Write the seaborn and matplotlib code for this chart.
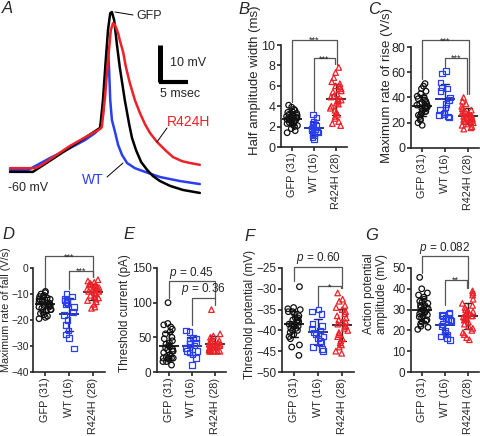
import numpy as np
import pandas as pd
import matplotlib
matplotlib.use('Agg')
import matplotlib.pyplot as plt
import seaborn as sns

np.random.seed(7)
sns.set_style('ticks')
plt.rcParams['font.family'] = ['Liberation Sans', 'DejaVu Sans']
plt.rcParams['mathtext.fontset'] = 'custom'
plt.rcParams['mathtext.rm'] = 'Liberation Sans'
plt.rcParams['mathtext.it'] = 'Liberation Sans:italic'

# ---------------- data ----------------
groups = ['GFP (31)', 'WT (16)', 'R424H (28)']
colors = ['#111111', '#2a3ff0', '#ee2028']
mean_colors = ['#111111', '#1a2590', '#3a2020']
markers = ['o', 's', '^']

# Panel A traces (ms, mV)
gfp_t = [0, 4.1, 16.1, 16.6, 17.1, 17.5, 17.9, 18.2, 18.6, 19.1, 19.6, 20.5, 21.3, 21.8, 22.5, 23.4, 24.5, 25.5, 26.8, 28.6, 30.9, 33.9]
gfp_v = [-60.5, -60.5, -48.6, -41.1, -30.3, -22.2, -17.6, -17.3, -19.5, -26.2, -32.2, -41.1, -47.8, -51.4, -54.6, -57.8, -60.0, -61.6, -63.0, -64.3, -65.4, -66.2]
wt_t = [0, 3.2, 7.1, 10.7, 13.4, 15.2, 16.1, 16.6, 17.0, 17.3, 17.5, 17.7, 17.9, 18.2, 18.8, 19.3, 20.0, 20.9, 22.3, 24.1, 26.8, 30.4, 33.9]
wt_v = [-60.0, -60.0, -56.8, -54.1, -51.9, -50.0, -48.6, -45.1, -35.7, -27.6, -27.0, -33.0, -41.1, -46.5, -50.0, -53.2, -55.9, -58.1, -59.5, -60.5, -61.9, -63.0, -63.8]
mut_t = [0, 4.5, 5.4, 10.7, 16.1, 16.4, 17.0, 17.5, 18.0, 18.4, 18.75, 19.3, 19.6, 20.2, 20.7, 21.4, 22.3, 23.2, 24.1, 25.0, 26.25, 27.7, 29.1, 30.7, 32.1, 33.9]
mut_v = [-59.5, -59.5, -58.9, -53.5, -48.9, -48.4, -39.7, -30.3, -22.2, -20.3, -20.8, -23.0, -24.9, -28.1, -32.2, -36.5, -41.1, -44.6, -47.6, -50.0, -52.4, -54.6, -56.5, -57.6, -58.1, -58.6]

# B: half amplitude width (ms)
hw_gfp = [1.4, 1.6, 1.8, 2.0, 2.1, 2.2, 2.3, 2.3, 2.4, 2.5, 2.5, 2.6, 2.6, 2.7, 2.7, 2.8, 2.8, 2.9, 2.9, 3.0, 3.0, 3.1, 3.2, 3.2, 3.3, 3.4, 3.5, 3.6, 3.7, 3.9, 4.1]
hw_wt = [0.8, 1.0, 1.2, 1.3, 1.4, 1.5, 1.6, 1.7, 1.8, 1.9, 2.0, 2.1, 2.3, 2.5, 2.9, 3.2]
hw_mut = [2.1, 2.3, 2.5, 2.8, 3.0, 3.2, 3.4, 3.6, 3.8, 4.0, 4.2, 4.3, 4.5, 4.6, 4.7, 4.9, 5.0, 5.2, 5.4, 5.5, 5.7, 5.9, 6.0, 6.2, 6.4, 6.8, 7.3, 7.8]
# C: maximum rate of rise (V/s)
rise_gfp = [18, 20, 22, 23, 25, 26, 27, 28, 29, 29, 30, 31, 31, 32, 32, 33, 33, 34, 35, 35, 36, 37, 38, 39, 40, 41, 43, 45, 47, 49, 51]
rise_wt = [24, 25, 26, 27, 28, 30, 32, 35, 38, 40, 45, 48, 47, 52, 59, 61]
rise_mut = [15, 16, 17, 18, 19, 20, 20, 21, 22, 22, 23, 23, 24, 24, 25, 25, 26, 26, 27, 28, 28, 29, 30, 31, 33, 35, 37, 40]
# D: maximum rate of fall (V/s)
fall_gfp = [-19.5, -19, -18.5, -18, -17.5, -17, -16.5, -16, -16, -15.5, -15, -15, -14.5, -14.5, -14, -14, -13.5, -13.5, -13, -13, -12.5, -12.5, -12, -12, -11.5, -11, -11, -10.5, -10, -9.5, -9]
fall_wt = [-10, -11, -12, -12.5, -13, -13.5, -14, -15, -17, -18, -20, -22, -24, -25.5, -27, -31]
fall_mut = [-15.5, -15, -14, -13, -12.5, -12, -11.5, -11, -10.5, -10, -10, -9.5, -9, -9, -8.5, -8.5, -8, -8, -7.5, -7.5, -7, -7, -6.5, -6, -6, -5.5, -5, -4.5]
# E: threshold current (pA)
cur_gfp = [100, 70, 68, 65, 62, 58, 55, 50, 48, 45, 42, 40, 38, 36, 35, 33, 32, 30, 30, 28, 25, 22, 20, 20, 20, 20, 20, 18, 15, 15, 10]
cur_wt = [10, 20, 25, 28, 30, 30, 35, 38, 40, 40, 42, 45, 48, 50, 58, 60]
cur_mut = [90, 55, 52, 50, 48, 45, 45, 42, 40, 40, 40, 40, 38, 38, 38, 35, 35, 35, 35, 33, 33, 32, 30, 30, 30, 30, 30, 30]
# F: threshold potential (mV)
thr_gfp = [-29.5, -34.5, -34.8, -35, -35.5, -35.5, -36, -36.5, -37, -37, -37.5, -37.5, -38, -38, -38, -38.5, -38.5, -39, -39, -39, -39.5, -39.5, -40, -40, -40.5, -41, -41.5, -42, -43.5, -44, -46]
thr_wt = [-35, -35.5, -36, -38.5, -39, -39.5, -40, -40.5, -41, -41.5, -42, -42.5, -43, -44, -44.5, -45]
thr_mut = [-31, -32.5, -33, -34, -34.5, -35, -35.5, -36, -36.5, -37, -37.5, -38, -38, -38.5, -39, -39, -39.5, -40, -40.5, -41, -41.5, -42, -42.5, -43, -43.5, -44, -45, -45.5]
# G: action potential amplitude (mV)
amp_gfp = [45.5, 40, 38, 37, 36, 35, 34, 33.5, 33, 32, 32, 31, 31, 30.5, 30, 30, 29, 29, 28.5, 28, 27.5, 27, 26.5, 26, 25, 24.5, 24, 23, 22, 21.5, 20.5]
amp_wt = [28.5, 28, 27.5, 27, 26, 25.5, 25, 24.5, 23, 22, 20, 19, 18, 17, 16, 15.5]
amp_mut = [39, 38, 37, 35, 33, 32, 31, 30, 29.5, 29, 28.5, 28, 27.5, 27, 27, 26.5, 26, 25.5, 25, 24, 23, 22, 21, 20, 19, 18, 16.5, 15.5]

W, H = 480, 436
fig = plt.figure(figsize=(W / 100, H / 100), dpi=100)

def axes_px(x0, y0, x1, y1):
    return fig.add_axes([x0 / W, (H - y1) / H, (x1 - x0) / W, (y1 - y0) / H])

def letter(x, y, s):
    fig.text(x / W, 1 - y / H, s, fontsize=12, style='italic', va='top', ha='left')

# ---------------- Panel A ----------------
axA = axes_px(8, 5, 205, 200)
tr = pd.DataFrame({
    'trace': ['WT'] * len(wt_t) + ['GFP'] * len(gfp_t) + ['R424H'] * len(mut_t),
    't': wt_t + gfp_t + mut_t,
    'v': wt_v + gfp_v + mut_v,
})
sns.lineplot(data=tr, x='t', y='v', hue='trace', hue_order=['WT', 'GFP', 'R424H'],
             palette=['#2a3ff0', '#000000', '#ee2028'], sort=False, estimator=None,
             linewidth=1.8, legend=False, ax=axA)
for ln in axA.lines:
    ln.set_solid_joinstyle('round')
axA.set_xlim((8 - 10) / 5.6, (205 - 10) / 5.6)
axA.set_ylim(-60 + (170 - 200) / 3.7, -60 + (170 - 5) / 3.7)
axA.axis('off')

def pd_(x, y):
    return ((x - 10) / 5.6, -60 + (170 - y) / 3.7)

# scale bars
sx, sy = pd_(160, 82)
axA.plot([sx, sx], [sy, sy + 10], color='black', lw=3.6, solid_capstyle='butt', clip_on=False)
axA.plot([sx - 0.25, sx + 5], [sy, sy], color='black', lw=3.0, solid_capstyle='butt', clip_on=False)
axA.text(*pd_(170, 63), '10 mV', fontsize=9, va='center', ha='left')
axA.text(*pd_(160, 94), '5 msec', fontsize=9, va='center', ha='left')
# labels
axA.plot(*zip(pd_(115, 12), pd_(133, 15)), color='black', lw=0.7, clip_on=False)
axA.text(*pd_(136, 16), 'GFP', fontsize=9, va='center', ha='left')
axA.plot(*zip(pd_(157, 142), pd_(167, 128)), color='black', lw=0.7, clip_on=False)
axA.text(*pd_(167, 122), 'R424H', fontsize=10, va='center', ha='left', color='#ee2028', clip_on=False)
axA.plot(*zip(pd_(107, 177), pd_(123, 163)), color='black', lw=0.7, clip_on=False)
axA.text(*pd_(82, 180), 'WT', fontsize=10, va='center', ha='left', color='#2a3ff0')
axA.text(*pd_(8, 188), '-60 mV', fontsize=9, va='center', ha='left')

# ---------------- scatter panels ----------------
def scatter_panel(ax, vals, ylim, yticks, ylabel, lab_xy, fs_lab, fs_tick):
    df = pd.DataFrame({'group': np.repeat(groups, [len(v) for v in vals]),
                       'value': np.concatenate(vals)})
    for g, c, m in zip(groups, colors, markers):
        n0 = len(ax.collections)
        sns.stripplot(data=df[df.group == g], x='group', y='value', order=groups,
                      color=c, marker=m, size=4.0, jitter=0.26, linewidth=0.9, ax=ax)
        for coll in ax.collections[n0:]:
            coll.set_facecolor('none')
            coll.set_edgecolor(c)
    sns.pointplot(data=df, x='group', y='value', order=groups, hue='group', hue_order=groups,
                  palette=mean_colors, errorbar='sd', capsize=0.35, linestyle='none',
                  marker='_', markersize=14, markeredgewidth=1.3,
                  err_kws={'linewidth': 1.0}, legend=False, ax=ax)
    ax.set_xlim(-0.5, 2.5)
    ax.set_ylim(*ylim)
    ax.set_yticks(yticks)
    ax.set_xlabel('')
    ax.set_ylabel(ylabel, fontsize=fs_lab, linespacing=1.1)
    ax.yaxis.set_label_coords(*lab_xy)
    ax.yaxis.label.set_verticalalignment('center')
    ax.tick_params(axis='both', width=1.2, length=3, pad=1)
    ax.tick_params(axis='y', labelsize=fs_tick)
    ax.tick_params(axis='x', labelsize=7.8, rotation=90)
    for s in ['left', 'bottom']:
        ax.spines[s].set_linewidth(1.2)
    sns.despine(ax=ax)

def bracket(ax, x1, x2, y, y1, y2, label, kind='star'):
    ax.plot([x1, x1, x2, x2], [y1, y, y, y2], color='#555555', lw=0.9, clip_on=False)
    if kind == 'star':
        ax.annotate(label, xy=((x1 + x2) / 2, y), xytext=(0, -2.2), textcoords='offset points',
                    ha='center', va='baseline', fontsize=6.5, annotation_clip=False)
    else:
        ax.annotate(label, xy=((x1 + x2) / 2, y), xytext=(0, 0.6), textcoords='offset points',
                    ha='center', va='bottom', fontsize=8.5, annotation_clip=False)

axB = axes_px(281, 45, 347, 147)
scatter_panel(axB, [hw_gfp, hw_wt, hw_mut], (0, 10), [0, 2, 4, 6, 8, 10],
              'Half amplitude width (ms)', (-0.40, 0.65), 9.5, 9)
bracket(axB, 0, 2.05, 10.5, 4.4, 8.0, '***')
bracket(axB, 1, 1.95, 8.7, 3.5, 8.1, '***')

axC = axes_px(411, 47, 479, 148)
scatter_panel(axC, [rise_gfp, rise_wt, rise_mut], (0, 80), [0, 20, 40, 60, 80],
              'Maximum rate of rise (V/s)', (-0.36, 0.62), 9.5, 9)
bracket(axC, 0, 2.05, 85.3, 55, 43, '***')
bracket(axC, 1, 1.95, 71.3, 64, 43, '***')

axD = axes_px(33, 268, 105, 372)
scatter_panel(axD, [fall_gfp, fall_wt, fall_mut], (-40, 0), [0, -10, -20, -30, -40],
              'Maximum rate of fall (V/s)', (-0.372, 0.6), 7.8, 7.5)
axD.tick_params(axis='y', length=2.5, pad=0.5)
bracket(axD, 0, 2.0, 4.5, -8.0, -3.5, '***')
bracket(axD, 1, 2.0, -1.2, -8.0, -3.5, '***')

axE = axes_px(157, 268, 226, 372)
scatter_panel(axE, [cur_gfp, cur_wt, cur_mut], (0, 150), [0, 50, 100, 150],
              'Threshold current (pA)', (-0.46, 0.57), 8.5, 8.5)
bracket(axE, 0, 2.0, 130.6, 107, 107, r'$\it{p}$ = 0.45', kind='p')
bracket(axE, 1, 2.0, 107, 68, 96, r'$\it{p}$ = 0.36', kind='p')

axF = axes_px(282, 268, 354, 372)
scatter_panel(axF, [thr_gfp, thr_wt, thr_mut], (-50, -25), [-25, -30, -35, -40, -45, -50],
              'Threshold potential (mV)', (-0.44, 0.55), 8.5, 8.5)
bracket(axF, 0, 2.0, -24.8, -28.2, -29.8, r'$\it{p}$ = 0.60', kind='p')
bracket(axF, 1, 1.95, -29.4, -34.3, -29.8, '*')

axG = axes_px(411, 268, 479, 372)
scatter_panel(axG, [amp_gfp, amp_wt, amp_mut], (0, 50), [0, 10, 20, 30, 40, 50],
              'Action potential\namplitude (mV)', (-0.52, 0.75), 8.5, 8.5)
bracket(axG, 0, 2.0, 55.6, 47.6, 40.3, r'$\it{p}$ = 0.082', kind='p')
bracket(axG, 1, 1.95, 44.4, 32, 40.3, '**')

letter(2, 1, 'A')
letter(238, 2, 'B')
letter(368, 2, 'C')
letter(2, 227, 'D')
letter(123, 227, 'E')
letter(244, 229, 'F')
letter(365, 228, 'G')

fig.savefig('out.png', dpi=100)
